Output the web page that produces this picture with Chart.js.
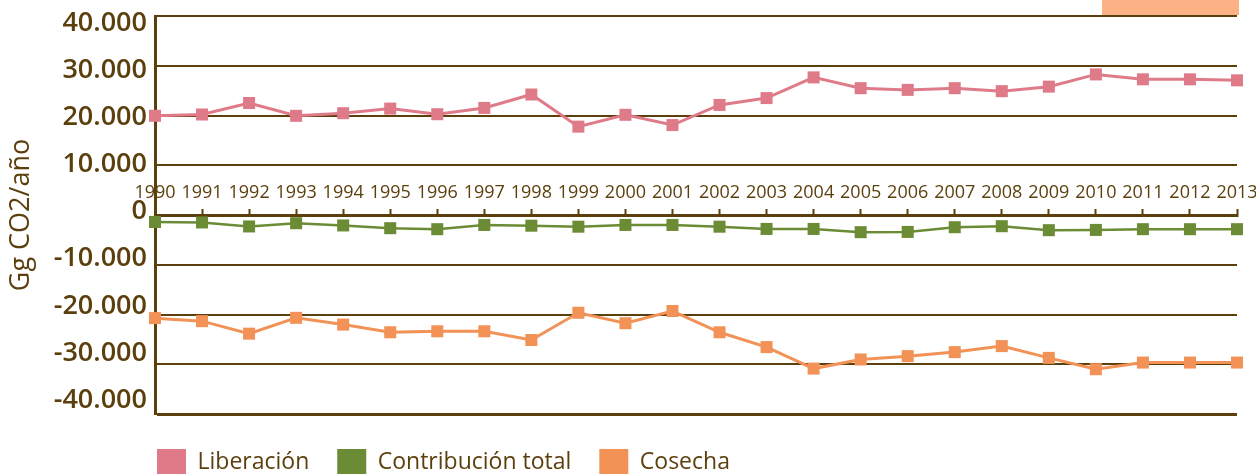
<!DOCTYPE html>
<html>
<head>
<meta charset="utf-8">
<script src="https://cdn.jsdelivr.net/npm/chart.js@4.4.1/dist/chart.umd.min.js"></script>
<style>
  body { margin: 0; background: #fff; }
  #wrap { position: relative; width: 1256px; height: 474px; overflow: hidden; }
  #tab { position: absolute; left: 1102px; top: 0; width: 137px; height: 15px; background: #fbb385; }
</style>
</head>
<body>
<div id="wrap">
  <canvas id="myChart"></canvas>
  <div id="tab"></div>
</div>
<script>
// years on the x axis
const years = ['1990', '1991', '1992', '1993', '1994', '1995', '1996', '1997', '1998', '1999', '2000', '2001',
               '2002', '2003', '2004', '2005', '2006', '2007', '2008', '2009', '2010', '2011', '2012', '2013'];

// Gg CO2/año
const liberacion = [19940, 20200, 22510, 19940, 20460, 21390, 20260, 21520, 24220, 17760, 20140, 18080,
                    22120, 23500, 27660, 25490, 25150, 25490, 24890, 25800, 28260, 27270, 27270, 27070];
const contribucion = [-1400, -1500, -2300, -1650, -2100, -2650, -2850, -2000, -2150, -2350, -2000, -2000,
                      -2350, -2800, -2800, -3450, -3400, -2450, -2250, -3050, -3000, -2850, -2850, -2850];
const cosecha = [-20730, -21340, -23850, -20670, -22030, -23570, -23370, -23370, -25130, -19650, -21750, -19300,
                 -23570, -26550, -30870, -29040, -28370, -27560, -26350, -28720, -31000, -29660, -29660, -29660];

// y tick values (labels are written with a dot for thousands)
const yTickValues = [40000, 30000, 20000, 10000, 0, -10000, -20000, -30000, -40000];

const seriesNames = ['Liberación', 'Contribución total', 'Cosecha'];
const seriesColors = ['#df7b89', '#6b8c35', '#f29257'];

const brown = '#5b3f0c';
const font = 'Open Sans';

// 40000 -> "40.000"
function fmt(v) {
    const s = String(Math.abs(v)).replace(/\B(?=(\d{3})+(?!\d))/g, '.');
    return (v < 0 ? '-' : '') + s;
}

// put the legend under the plot, lined up with the y axis
const legendPlace = {
    id: 'legendPlace',
    afterLayout(chart) {
        const lg = chart.legend;
        lg.left = chart.chartArea.left + 2 - lg.options.labels.padding;
        lg.top += 7;
    }
};

function series(i, data, width) {
    return {
        label: seriesNames[i],
        data,
        borderColor: seriesColors[i],
        backgroundColor: seriesColors[i],
        borderWidth: width,
        pointStyle: 'rect',
        pointRadius: 8.5,
        pointBorderWidth: 0,
        pointBackgroundColor: seriesColors[i],
        tension: 0,
        clip: false
    };
}

let ctx = document.getElementById('myChart').getContext('2d');

let co2Chart = new Chart(ctx, {
    type: 'line',
    data: {
        labels: years,
        datasets: [
            series(0, liberacion, 3),
            series(1, contribucion, 2.5),
            series(2, cosecha, 3)
        ]
    },
    plugins: [legendPlace],
    options: {
        responsive: true,
        maintainAspectRatio: false,
        animation: false,
        layout: { padding: { top: 16, right: 19, bottom: -4, left: 0 } },
        plugins: {
            tooltip: { enabled: false },
            legend: {
                position: 'bottom',
                align: 'start',
                labels: {
                    color: brown,
                    font: { family: font, size: 23 },
                    boxWidth: 29,
                    boxHeight: 26,
                    padding: 28,
                    generateLabels: chart => Chart.defaults.plugins.legend.labels.generateLabels(chart)
                        .map(l => Object.assign(l, { lineWidth: 0 }))
                }
            }
        },
        scales: {
            x: {
                position: { y: 0 },
                offset: false,
                grid: {
                    drawOnChartArea: false,
                    drawTicks: true,
                    tickLength: -8,
                    tickWidth: 2,
                    tickColor: brown
                },
                border: { color: brown, width: 3 },
                ticks: {
                    color: brown,
                    font: { family: font, size: 18 },
                    padding: -25,
                    autoSkip: false,
                    maxRotation: 0,
                    minRotation: 0
                }
            },
            y: {
                type: 'linear',
                position: 'left',
                weight: 0,
                min: -40000,
                max: 40000,
                ticks: { display: false },
                afterBuildTicks: s => { s.ticks = yTickValues.map(v => ({ value: v })); },
                grid: {
                    color: brown,
                    lineWidth: c => c.tick.value === -40000 ? 3 : 2,
                    drawTicks: false
                },
                border: { color: brown, width: 3 },
                afterFit: s => { s.width = 0; s.paddingTop = 0; s.paddingBottom = 0; }
            },
            // the labels of the source sit a little off the grid lines
            yLabels: {
                type: 'linear',
                axis: 'y',
                position: 'left',
                weight: 1,
                min: -42980,
                max: 41600,
                afterBuildTicks: s => { s.ticks = yTickValues.map(v => ({ value: v })); },
                ticks: {
                    color: brown,
                    font: { family: font, size: 27, weight: '600' },
                    padding: 8,
                    callback: v => fmt(v)
                },
                grid: { display: false, drawTicks: false },
                border: { display: false },
                title: {
                    display: true,
                    text: 'Gg CO2/año',
                    color: brown,
                    font: { family: font, size: 27, weight: '500' },
                    padding: { top: 5, bottom: 0 }
                },
                afterFit: s => { s.width = 155; s.paddingTop = 0; s.paddingBottom = 0; }
            }
        }
    }
});
</script>
</body>
</html>
